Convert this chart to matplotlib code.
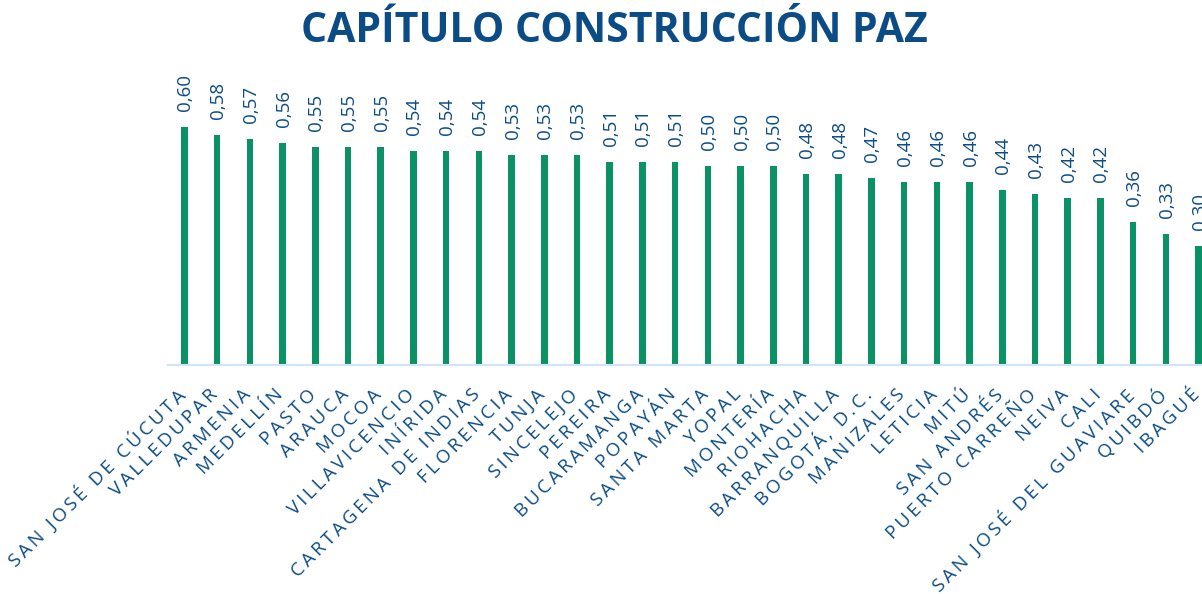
import matplotlib
matplotlib.use("Agg")
import matplotlib.pyplot as plt

plt.rcParams['font.family'] = ['Open Sans', 'DejaVu Sans']

ciudades = ['SAN JOSÉ DE CÚCUTA', 'VALLEDUPAR', 'ARMENIA', 'MEDELLÍN', 'PASTO',
            'ARAUCA', 'MOCOA', 'VILLAVICENCIO', 'INÍRIDA', 'CARTAGENA DE INDIAS',
            'FLORENCIA', 'TUNJA', 'SINCELEJO', 'PEREIRA', 'BUCARAMANGA', 'POPAYÁN',
            'SANTA MARTA', 'YOPAL', 'MONTERÍA', 'RIOHACHA', 'BARRANQUILLA',
            'BOGOTÁ, D.C.', 'MANIZALES', 'LETICIA', 'MITÚ', 'SAN ANDRÉS',
            'PUERTO CARREÑO', 'NEIVA', 'CALI', 'SAN JOSÉ DEL GUAVIARE', 'QUIBDÓ',
            'IBAGUÉ']
indice = [0.60, 0.58, 0.57, 0.56, 0.55, 0.55, 0.55, 0.54, 0.54, 0.54, 0.53,
          0.53, 0.53, 0.51, 0.51, 0.51, 0.50, 0.50, 0.50, 0.48, 0.48, 0.47,
          0.46, 0.46, 0.46, 0.44, 0.43, 0.42, 0.42, 0.36, 0.33, 0.30]

verde = '#0b9166'
azul = '#0b4c86'

fig = plt.figure(figsize=(12.02, 5.94), dpi=100)
ax = fig.add_axes([168 / 1202, 229 / 594, 1047 / 1202, 305 / 594])

x = range(len(ciudades))
ax.bar(x, indice, width=0.2, color=verde, zorder=2)

ax.set_xlim(-0.5, len(ciudades) - 0.5)
ax.set_ylim(0, 0.768)

for s in ['top', 'right', 'left']:
    ax.spines[s].set_visible(False)
ax.spines['bottom'].set_color('#cfe5f8')
ax.spines['bottom'].set_linewidth(1.5)
ax.set_yticks([])
ax.set_xticks([])

# valores encima de cada barra
for i, v in enumerate(indice):
    ax.annotate(('%.2f' % v).replace('.', ','), xy=(i, v), xytext=(1, 16),
                textcoords='offset pixels', rotation=90, ha='center', va='bottom',
                fontsize=13.5, color=azul, annotation_clip=False)

# nombres de ciudades en diagonal con espaciado entre letras
for i, c in enumerate(ciudades):
    etiqueta = '\u2009'.join(c)
    ax.annotate(etiqueta, xy=(i, 0), xycoords=('data', 'axes fraction'),
                xytext=(-2, -27), textcoords='offset pixels', rotation=45,
                rotation_mode='anchor', ha='right', va='center',
                fontsize=13.5, color=azul, annotation_clip=False)

fig.text(614 / 1202, 1 - 32 / 594, 'CAPÍTULO CONSTRUCCIÓN PAZ', ha='center',
         va='center', fontsize=29.5, fontweight='bold', color=azul)

fig.savefig('out.png', dpi=100)
